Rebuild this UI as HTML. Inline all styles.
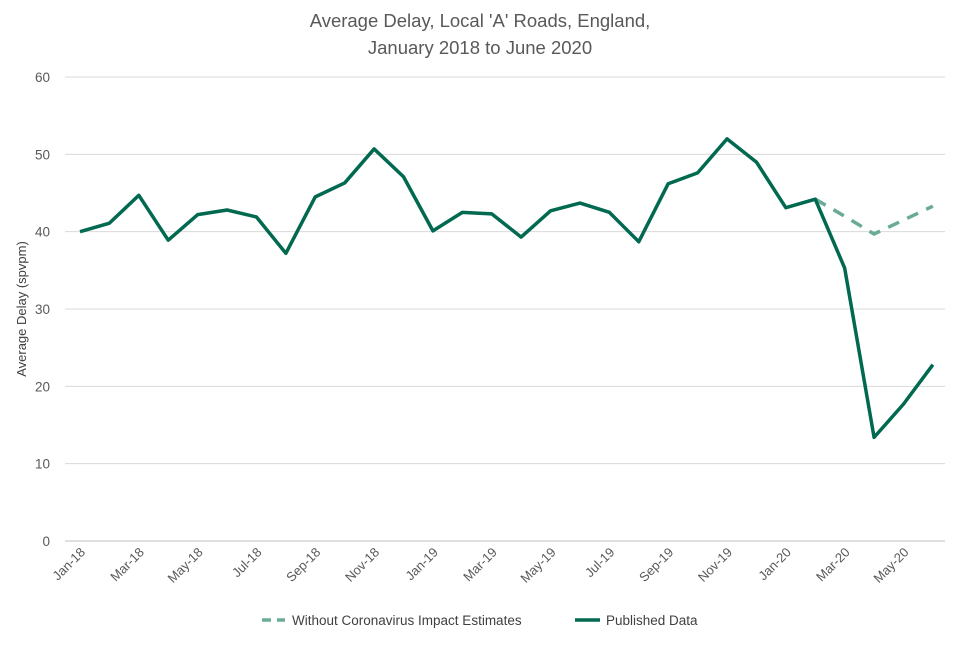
<!DOCTYPE html>
<html><head><meta charset="utf-8">
<style>
body{margin:0;background:#fff;font-family:"Liberation Sans",sans-serif;}
svg text{font-family:"Liberation Sans",sans-serif;}
</style></head>
<body>
<svg id="chart" width="960" height="640" xmlns="http://www.w3.org/2000/svg">
<rect width="960" height="640" fill="#fff"/>
<text x="480" y="27" text-anchor="middle" font-size="18.5" fill="#595959">Average Delay, Local 'A' Roads, England,</text>
<text x="480" y="54" text-anchor="middle" font-size="18.5" fill="#595959">January 2018 to June 2020</text>
<text transform="translate(26,309) rotate(-90)" text-anchor="middle" font-size="13" fill="#404040">Average Delay (spvpm)</text>
<g id="grid"></g><g id="yticks"></g><g id="xticks"></g><g id="series"></g>
<g>
<line x1="262" y1="620" x2="285" y2="620" stroke="#6aab98" stroke-width="3.5" stroke-dasharray="9,6"/>
<text x="292" y="625" font-size="13.5" fill="#404040">Without Coronavirus Impact Estimates</text>
<line x1="575" y1="620" x2="600" y2="620" stroke="#006950" stroke-width="3.5"/>
<text x="606" y="625" font-size="13.5" fill="#404040">Published Data</text>
</g>
</svg>
<script>
const months = ["Jan-18","Feb-18","Mar-18","Apr-18","May-18","Jun-18","Jul-18","Aug-18","Sep-18","Oct-18","Nov-18","Dec-18","Jan-19","Feb-19","Mar-19","Apr-19","May-19","Jun-19","Jul-19","Aug-19","Sep-19","Oct-19","Nov-19","Dec-19","Jan-20","Feb-20","Mar-20","Apr-20","May-20","Jun-20"];
const published = [40.0,41.1,44.7,38.9,42.2,42.8,41.9,37.2,44.5,46.3,50.7,47.1,40.1,42.5,42.3,39.3,42.7,43.7,42.5,38.7,46.2,47.6,52.0,49.0,43.1,44.2,35.3,13.4,17.7,22.8];
const estimateStart = 25;
const estimates = [44.2,42.0,39.7,41.5,43.3];
const yTicks = [0,10,20,30,40,50,60];
const NS="http://www.w3.org/2000/svg";
const x0=80, dx=29.41, yBase=541, yTop=77, yMax=60;
const X=i=>x0+i*dx;
const Y=v=>yBase-(v/yMax)*(yBase-yTop);
function mk(t,a,p){const e=document.createElementNS(NS,t);for(const k in a)e.setAttribute(k,a[k]);p.appendChild(e);return e;}
const grid=document.getElementById('grid'),yt=document.getElementById('yticks'),xt=document.getElementById('xticks'),ser=document.getElementById('series');
yTicks.forEach(v=>{
 const l=mk('line',{x1:65,x2:945,y1:Y(v),y2:Y(v),stroke:v===0?'#bfbfbf':'#d9d9d9','stroke-width':1},grid);
 
 
 const t=mk('text',{x:50,y:Y(v)+5,'text-anchor':'end','font-size':13.5,fill:'#595959'},yt);
 t.textContent=v;
 
 
});
months.forEach((m,i)=>{
 if(i%2)return;
 const t=mk('text',{transform:`translate(${X(i)+6},${553}) rotate(-45)`,'text-anchor':'end','font-size':13,fill:'#595959'},xt);
 t.textContent=m;
 
 
});
const est=mk('polyline',{points:estimates.map((v,i)=>X(estimateStart+i)+','+Y(v)).join(' '),fill:'none',stroke:'#6aab98','stroke-width':3.5,'stroke-dasharray':'12,9'},ser);


const pub=mk('polyline',{points:published.map((v,i)=>X(i)+','+Y(v)).join(' '),fill:'none',stroke:'#006950','stroke-width':3.5,'stroke-linejoin':'round'},ser);


</script>
</body></html>
